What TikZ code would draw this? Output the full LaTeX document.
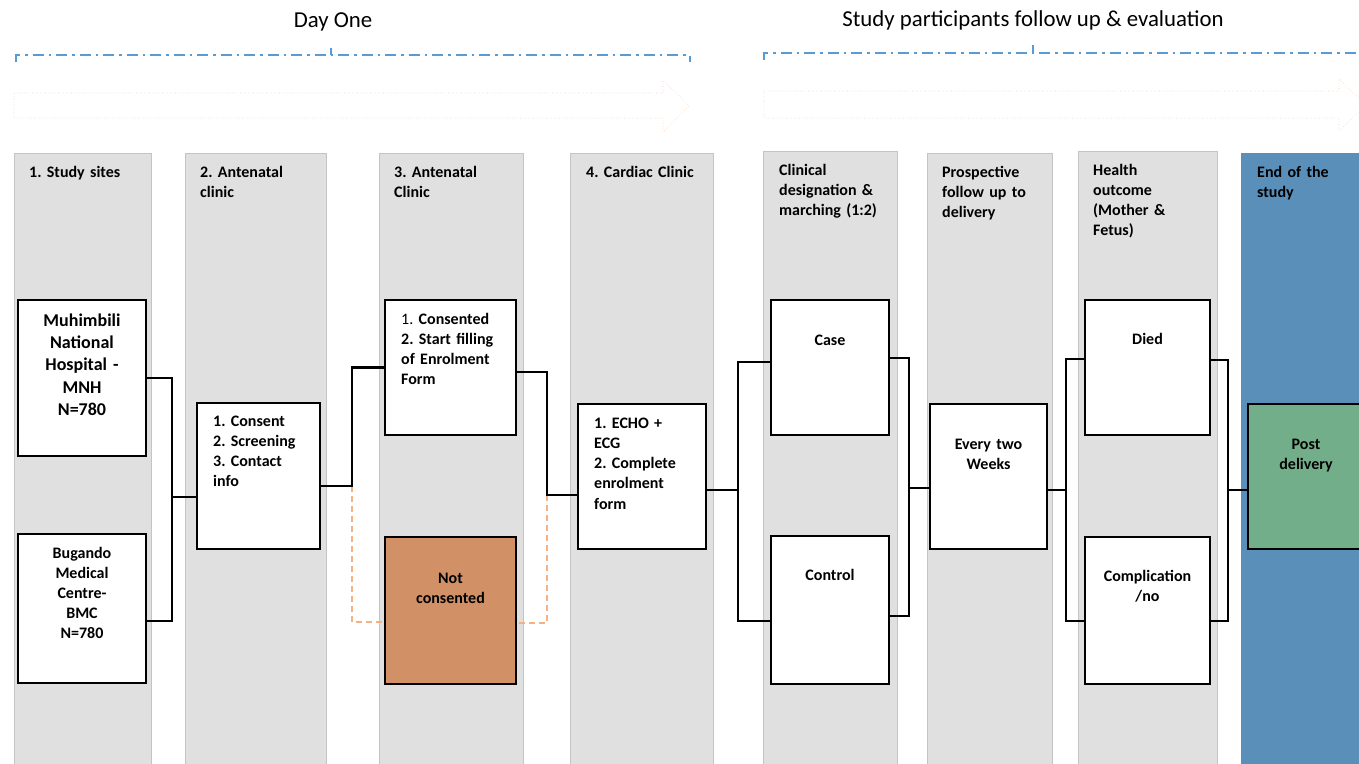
\documentclass[tikz,border=0pt]{standalone}
\usepackage{fontspec}
\setmainfont{Carlito}
\frenchspacing
\usetikzlibrary{calc}
\definecolor{panelgray}{HTML}{E0E0E0}
\definecolor{paneledge}{HTML}{C4C4C4}
\definecolor{endblue}{HTML}{5A8FBA}
\definecolor{bracketblue}{HTML}{5B9BD5}
\definecolor{arroworange}{HTML}{F4B183}
\definecolor{notcfill}{HTML}{D19065}
\definecolor{postgreen}{HTML}{73AE8A}
\begin{document}
\begin{tikzpicture}[x=1pt,y=-1pt,
  panel/.style={fill=panelgray,draw=paneledge,line width=1pt},
  box/.style={draw=black,line width=1.4pt,fill=white,inner sep=0pt},
  hdr/.style={anchor=base west,align=left,text width=140pt,inner sep=0pt,font=\fontsize{16}{20}\selectfont\bfseries\frenchspacing},
  lbl/.style={anchor=base,align=center,text width=130pt,inner sep=0pt,font=\fontsize{16}{20}\selectfont\bfseries\frenchspacing},
  lbll/.style={anchor=base west,align=left,text width=125pt,inner sep=0pt,font=\fontsize{16}{20.3}\selectfont\bfseries\frenchspacing},
  conn/.style={draw=black,line width=2.2pt},
  dconn/.style={draw=arroworange,line width=1.8pt,dash pattern=on 6pt off 4pt},
  brk/.style={draw=bracketblue,line width=1.8pt,dash pattern=on 11pt off 5pt on 2.5pt off 5pt},
  bigarrow/.style={draw=arroworange!60,line width=0.6pt,dotted},
  title/.style={anchor=base,inner sep=0pt,font=\fontsize{22.8}{26}\selectfont}
]
\useasboundingbox (0,0) rectangle (1359,763);

% titles
\node[title] (t1) at (333,27) {Day One};
\node[title] (t2) at (1033,26) {Study participants follow up \& evaluation};

% brackets
\draw[brk] (16,62) -- (16,55) -- (690,55) -- (690,62);
\draw[draw=bracketblue,line width=1.8pt] (331,55) -- (331,48);
\draw[brk] (764,60) -- (764,53) -- (1359,53);
\draw[draw=bracketblue,line width=1.8pt] (1033,53) -- (1033,45);

% big arrows
\draw[bigarrow] (14,93) -- (663,93) -- (663,80) -- (689,106) -- (663,132) -- (663,118) -- (14,118) -- cycle;
\draw[bigarrow] (764,91) -- (1339,91) -- (1339,79) -- (1366,105) -- (1339,131) -- (1339,118) -- (764,118) -- cycle;

% panels
\fill[panel] (14,153) rectangle (151,770);
\fill[panel] (185,153) rectangle (326,770);
\fill[panel] (379,153) rectangle (523,770);
\fill[panel] (570,153) rectangle (713,770);
\fill[panel] (763,151) rectangle (897,770);
\fill[panel] (927,153) rectangle (1052,770);
\fill[panel] (1078,151) rectangle (1217,770);
\draw[panel] (14,770) -- (14,153) -- (151,153) -- (151,770);
\draw[panel] (185,770) -- (185,153) -- (326,153) -- (326,770);
\draw[panel] (379,770) -- (379,153) -- (523,153) -- (523,770);
\draw[panel] (570,770) -- (570,153) -- (713,153) -- (713,770);
\draw[panel] (763,770) -- (763,151) -- (897,151) -- (897,770);
\draw[panel] (927,770) -- (927,153) -- (1052,153) -- (1052,770);
\draw[panel] (1078,770) -- (1078,151) -- (1217,151) -- (1217,770);
\fill[endblue] (1241,153) rectangle (1370,770);

% headers
\node[hdr] (h1) at (29,177) {1. Study sites};
\node[hdr] (h2) at (200,177) {2. Antenatal\\clinic};
\node[hdr] (h3) at (394,177) {3. Antenatal\\Clinic};
\node[hdr] (h4) at (586,177) {4. Cardiac Clinic};
\node[hdr] (h5) at (779,175) {Clinical\\designation \&\\marching (1:2)};
\node[hdr] (h6) at (942,177) {Prospective\\follow up to\\delivery};
\node[hdr] (h7) at (1093,175) {Health\\outcome\\(Mother \&\\Fetus)};
\node[hdr] (h8) at (1257,177) {End of the\\study};

% boxes
\node[box,minimum width=128pt,minimum height=156pt] (mnh) at (82,378) {};
\node[box,minimum width=128pt,minimum height=149pt] (bmc) at (82,608.5) {};
\node[box,minimum width=123pt,minimum height=146pt] (anc) at (258.5,476) {};
\node[box,minimum width=131pt,minimum height=135pt] (cons) at (450.5,367.5) {};
\node[box,fill=notcfill,minimum width=131pt,minimum height=147pt] (notc) at (450.5,610.5) {};
\node[box,minimum width=128pt,minimum height=145pt] (echo) at (642,476.5) {};
\node[box,minimum width=118pt,minimum height=135pt] (case) at (830,367.5) {};
\node[box,minimum width=118pt,minimum height=148pt] (ctrl) at (830,610) {};
\node[box,minimum width=117pt,minimum height=145pt] (every) at (988.5,476.5) {};
\node[box,minimum width=125pt,minimum height=135pt] (died) at (1147.5,367.5) {};
\node[box,minimum width=125pt,minimum height=147pt] (comp) at (1147.5,610.5) {};
\node[box,fill=postgreen,minimum width=130pt,minimum height=145pt] (post) at (1313,476.5) {};

% box texts
\node[lbl,font=\fontsize{18}{22.4}\selectfont\bfseries\frenchspacing] (mnht) at (82,326) {Muhimbili\\National\\Hospital -\\MNH\\N=780};
\node[lbl] (bmct) at (82,558) {Bugando\\Medical\\Centre-\\BMC\\N=780};
\node[lbll] (anct) at (213,426) {1. Consent\\2. Screening\\3. Contact\\info};
\node[lbll] (const) at (401,324) {{\mdseries 1.} Consented\\2. Start filling\\of Enrolment\\Form};
\node[lbl] (notct) at (450.5,583) {Not\\consented};
\node[lbll] (echot) at (594,428) {1. ECHO +\\ECG\\2. Complete\\enrolment\\form};
\node[lbl] (caset) at (830,345) {Case};
\node[lbl] (ctrlt) at (830,580) {Control};
\node[lbl] (everyt) at (988.5,449) {Every two\\Weeks};
\node[lbl] (diedt) at (1147.5,344) {Died};
\node[lbl] (compt) at (1147.5,581) {Complication\\/no};
\node[lbl] (postt) at (1306,449) {Post\\delivery};

% connectors
\coordinate (j1) at (172,497);
\draw[conn] (mnh.east) -| (j1) |- ([yshift=-12.5pt]bmc.east);
\draw[conn] (j1) -- ([yshift=-21pt]anc.west);

\coordinate (j2) at (352,486);
\draw[dconn] (j2) |- ([yshift=-11.5pt]notc.west);
\draw[conn] ([yshift=-10pt]anc.east) -- (j2) |- (cons.west);

\coordinate (j3) at (547,495);
\draw[dconn] (j3) |- ([yshift=-12.5pt]notc.east);
\draw[conn] ([yshift=-4.5pt]cons.east) -| (j3) -- ([yshift=-18.5pt]echo.west);

\coordinate (j4) at (738,490);
\draw[conn] ([yshift=-13.5pt]echo.east) -- (j4);
\draw[conn] ([yshift=5.5pt]case.west) -| (j4) |- ([yshift=-11pt]ctrl.west);

\coordinate (j5) at (909,488);
\draw[conn] ([yshift=9.5pt]case.east) -| (j5) |- ([yshift=-6pt]ctrl.east);
\draw[conn] (j5) -- ([yshift=-11.5pt]every.west);

\coordinate (j6) at (1066,490);
\draw[conn] ([yshift=-13.5pt]every.east) -- (j6);
\draw[conn] ([yshift=8.5pt]died.west) -| (j6) |- ([yshift=-10.5pt]comp.west);

\coordinate (j7) at (1228,490);
\draw[conn] ([yshift=7.5pt]died.east) -| (j7) |- ([yshift=-10.5pt]comp.east);
\draw[conn] (j7) -- ([yshift=-13.5pt]post.west);
\end{tikzpicture}
\end{document}
